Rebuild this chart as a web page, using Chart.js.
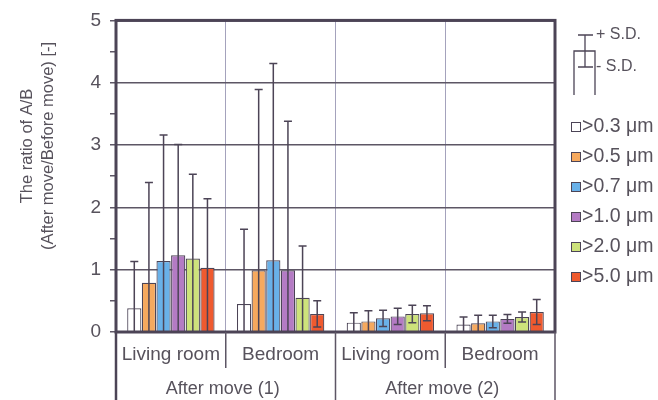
<!DOCTYPE html>
<html>
<head>
<meta charset="utf-8">
<script src="https://cdn.jsdelivr.net/npm/chart.js@4/dist/chart.umd.min.js"></script>
<style>
  html, body { margin: 0; padding: 0; background: #ffffff; }
  #c { display: block; }
</style>
</head>
<body>
<canvas id="c" width="658" height="400"></canvas>
<script>
// Rooms (x categories) and the two measurement periods they belong to
const rooms = ['Living room', 'Bedroom', 'Living room', 'Bedroom'];
const periods = ['After move (1)', 'After move (2)'];
const sizeBins = ['>0.3 μm', '>0.5 μm', '>0.7 μm', '>1.0 μm', '>2.0 μm', '>5.0 μm'];
const yTicks = [0, 1, 2, 3, 4, 5];

// Mean ratio A/B for each particle size bin, per room
const ratio03 = [0.38, 0.45, 0.15, 0.12];
const ratio05 = [0.79, 0.99, 0.17, 0.14];
const ratio07 = [1.14, 1.15, 0.22, 0.17];
const ratio10 = [1.23, 0.99, 0.25, 0.21];
const ratio20 = [1.18, 0.55, 0.29, 0.24];
const ratio50 = [1.03, 0.29, 0.30, 0.32];

// Standard deviations
const sd03 = [0.75, 1.20, 0.16, 0.12];
const sd05 = [1.61, 2.90, 0.17, 0.13];
const sd07 = [2.02, 3.16, 0.13, 0.10];
const sd10 = [1.78, 2.39, 0.13, 0.07];
const sd20 = [1.35, 0.83, 0.14, 0.08];
const sd50 = [1.11, 0.21, 0.12, 0.20];

const ratios = [ratio03, ratio05, ratio07, ratio10, ratio20, ratio50];
const sds = [sd03, sd05, sd07, sd10, sd20, sd50];
const fills = ['#ffffff', '#f6a95e', '#69b1e9', '#b47bc4', '#cde27b', '#ef5a2f'];

const FONT = "'Liberation Sans', Arial, sans-serif";
const INK = '#4c4456';
const TEXT = '#57525c';
const GRID = '#5d5665';
const VGRID = '#a4a2bc';

const decorations = {
  id: 'decorations',
  afterDatasetsDraw(chart) {
    const ctx = chart.ctx;
    const y = chart.scales.y;
    // error bars: line from max(0, mean - SD) up to mean + SD
    ctx.save();
    ctx.strokeStyle = INK;
    ctx.lineWidth = 1.5;
    chart.data.datasets.forEach((ds, i) => {
      const meta = chart.getDatasetMeta(i);
      meta.data.forEach((bar, j) => {
        const v = ds.data[j], sd = ds.sd[j];
        const yt = y.getPixelForValue(v + sd);
        const low = v - sd;
        const yb = y.getPixelForValue(Math.max(0, low));
        ctx.beginPath();
        ctx.moveTo(bar.x, yt); ctx.lineTo(bar.x, yb);
        ctx.moveTo(bar.x - 4, yt); ctx.lineTo(bar.x + 4, yt);
        if (low > 0.02) { ctx.moveTo(bar.x - 4, yb); ctx.lineTo(bar.x + 4, yb); }
        ctx.stroke();
      });
    });
    ctx.restore();
  },
  afterDraw(chart) {
    const ctx = chart.ctx;
    const a = chart.chartArea;
    const x = chart.scales.x;
    const H = chart.height;
    const edge = i => x.getPixelForValue(i) - (x.getPixelForValue(1) - x.getPixelForValue(0)) / 2;
    ctx.save();
    // plot frame
    ctx.strokeStyle = INK;
    ctx.lineWidth = 3;
    ctx.strokeRect(a.left, a.top, a.right - a.left, a.bottom - a.top);

    // separators under the axis
    ctx.lineWidth = 1.5;
    ctx.strokeStyle = GRID;
    ctx.beginPath();
    for (let i = 0; i <= rooms.length; i++) {
      const px = i === rooms.length ? a.right : edge(i);
      const long = i % 2 === 0;
      ctx.moveTo(px, a.bottom);
      ctx.lineTo(px, long ? H : a.bottom + 36);
    }
    ctx.stroke();
    ctx.lineWidth = 2.5;
    ctx.strokeStyle = INK;
    ctx.beginPath();
    ctx.moveTo(a.left, a.bottom); ctx.lineTo(a.left, H);
    ctx.stroke();

    // period labels
    ctx.fillStyle = TEXT;
    ctx.font = '18px ' + FONT;
    ctx.textAlign = 'center';
    ctx.textBaseline = 'middle';
    periods.forEach((p, k) => {
      const cx = (x.getPixelForValue(2 * k) + x.getPixelForValue(2 * k + 1)) / 2;
      ctx.fillText(p, cx - 3, 389);
    });

    // y-axis title
    ctx.save();
    ctx.translate(27, 146);
    ctx.rotate(-Math.PI / 2);
    ctx.font = '16.5px ' + FONT;
    ctx.fillText('The ratio of A/B', 0, 0);
    ctx.fillText('(After move/Before move) [-]', 0, 21);
    ctx.restore();

    // error bar key
    ctx.strokeStyle = INK;
    ctx.lineWidth = 1.3;
    ctx.beginPath();
    ctx.moveTo(574, 95); ctx.lineTo(574, 51); ctx.lineTo(595, 51); ctx.lineTo(595, 95);
    ctx.moveTo(585, 35); ctx.lineTo(585, 67);
    ctx.moveTo(578, 35); ctx.lineTo(593, 35);
    ctx.moveTo(578, 67); ctx.lineTo(593, 67);
    ctx.stroke();
    ctx.font = '16px ' + FONT;
    ctx.textAlign = 'left';
    ctx.fillText('+ S.D.', 596, 35);
    ctx.fillText('- S.D.', 596, 67);

    // size-bin key
    ctx.font = '19.5px ' + FONT;
    chart.data.datasets.forEach((ds, i) => {
      const cy = 127 + i * 30;
      ctx.fillStyle = ds.backgroundColor;
      ctx.fillRect(571, cy - 5, 10, 10);
      ctx.strokeStyle = INK;
      ctx.lineWidth = 1;
      ctx.strokeRect(571.5, cy - 4.5, 9, 9);
      ctx.fillStyle = TEXT;
      ctx.fillText(ds.label, 582, cy);
    });
    ctx.restore();
  }
};

new Chart(document.getElementById('c'), {
  type: 'bar',
  data: {
    labels: rooms,
    datasets: sizeBins.map((name, i) => ({
      label: name,
      data: ratios[i],
      sd: sds[i],
      backgroundColor: fills[i],
      borderColor: INK,
      borderWidth: 1.2
    }))
  },
  options: {
    responsive: false,
    animation: false,
    layout: { padding: { top: 16, right: 103, left: 0, bottom: 0 } },
    datasets: { bar: { categoryPercentage: 0.8, barPercentage: 0.97 } },
    plugins: { legend: { display: false }, tooltip: { enabled: false } },
    scales: {
      x: {
        grid: { offset: true, color: VGRID, lineWidth: 1, drawTicks: false },
        border: { display: false },
        ticks: { color: TEXT, font: { family: FONT, size: 19 }, padding: 11 },
        afterFit(s) { s.height = 68; }
      },
      y: {
        min: 0,
        max: 5,
        afterBuildTicks(s) {
          const t = [];
          yTicks.forEach((v, k) => {
            t.push({ value: v });
            if (k < yTicks.length - 1) t.push({ value: v + 0.5 });
          });
          s.ticks = t;
        },
        ticks: {
          color: TEXT,
          font: { family: FONT, size: 19 },
          padding: 9,
          callback: v => (yTicks.includes(v) ? String(v) : '')
        },
        grid: {
          color: c => (yTicks.includes(c.tick.value) ? GRID : 'rgba(0,0,0,0)'),
          tickColor: GRID,
          lineWidth: 1.5,
          tickLength: 6
        },
        border: { display: false },
        afterFit(s) { s.width = 116; }
      }
    }
  },
  plugins: [decorations]
});
</script>
</body>
</html>
